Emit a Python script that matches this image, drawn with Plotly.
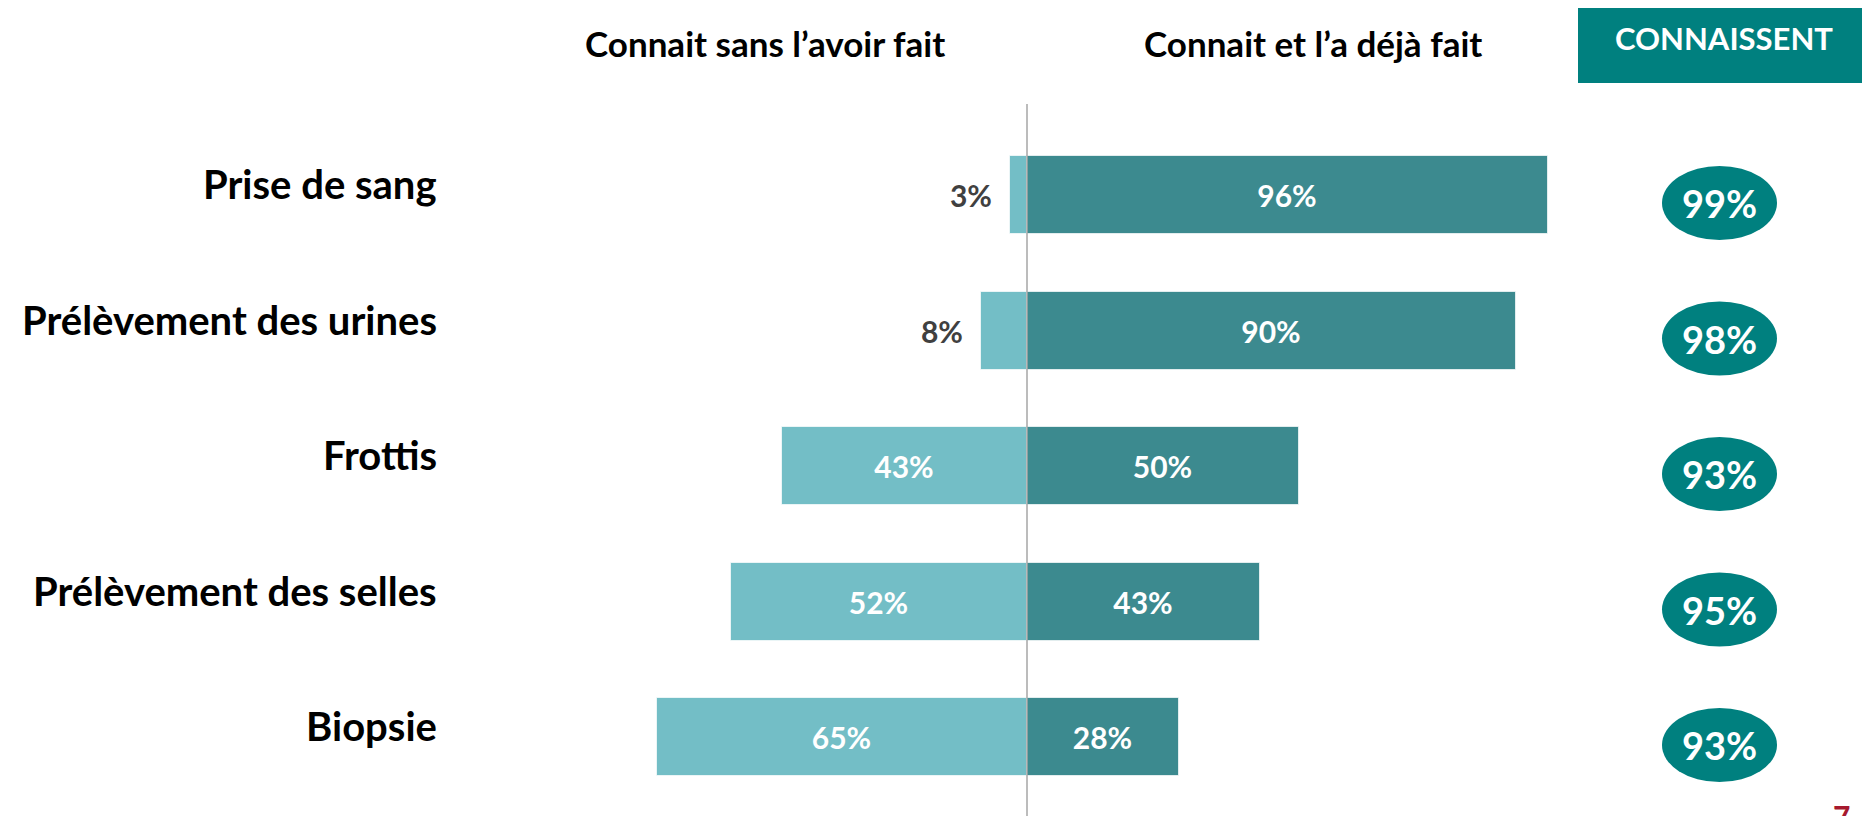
import plotly.graph_objects as go

# ---------------- data ----------------
categories = ["Prise de sang", "Prélèvement des urines", "Frottis",
              "Prélèvement des selles", "Biopsie"]
connait_sans_faire = [3, 8, 43, 52, 65]      # Connait sans l'avoir fait
connait_deja_fait = [96, 90, 50, 43, 28]     # Connait et l'a déjà fait
connaissent = [99, 98, 93, 95, 93]           # total CONNAISSENT

header_left = "Connait sans l’avoir fait"
header_right = "Connait et l’a déjà fait"
header_total = "CONNAISSENT"
page_number = "7"

# ---------------- style ----------------
W, H = 1862, 816
LIGHT = "#73BEC6"
DARK = "#3C8A8F"
TEAL = "#00807F"
FONT = "Lato"

PX_PER_PCT_LEFT = 5.7
PX_PER_PCT_RIGHT = 5.43
CENTER_PX = 1027
ROW0_PX = 195
ROW_STEP = 135.5
BAR_W = 78 / ROW_STEP

def px_x(p):
    return p / W

def px_y(p):
    return 1 - p / H

x_range_left = [-CENTER_PX / PX_PER_PCT_LEFT, 0]
x_range_right = [0, (W - CENTER_PX) / PX_PER_PCT_RIGHT]
y_range = [(H - ROW0_PX) / ROW_STEP, -ROW0_PX / ROW_STEP]

n = len(categories)
left_x = [-v for v in connait_sans_faire]
left_text = [f"{v}%" + ("\u00a0\u00a0" if v < 20 else "") for v in connait_sans_faire]
left_pos = ["outside" if v < 20 else "inside" for v in connait_sans_faire]
left_col = ["#404040" if v < 20 else "white" for v in connait_sans_faire]

fig = go.Figure()
fig.add_trace(go.Bar(
    y=categories, x=left_x, orientation="h", base=0, xaxis="x", yaxis="y",
    marker=dict(color=LIGHT, line=dict(color="rgba(255,255,255,0.7)", width=1)),
    text=left_text, textposition=left_pos, insidetextanchor="middle",
    textfont=dict(family=FONT, size=30, color=left_col, weight="bold"),
    outsidetextfont=dict(family=FONT, size=30, color="#404040", weight="bold"),
    width=BAR_W, cliponaxis=False, hoverinfo="skip", showlegend=False,
))
fig.add_trace(go.Bar(
    y=categories, x=connait_deja_fait, orientation="h", base=0, xaxis="x2", yaxis="y",
    marker=dict(color=DARK, line=dict(color="rgba(255,255,255,0.7)", width=1)),
    text=[f"{v}%" for v in connait_deja_fait], textposition="inside",
    insidetextanchor="middle",
    textfont=dict(family=FONT, size=30, color="white", weight="bold"),
    width=BAR_W, cliponaxis=False, hoverinfo="skip", showlegend=False,
))

shapes = []
annotations = []

# total column: ellipses + text
for i, v in enumerate(connaissent):
    shapes.append(dict(
        type="circle", xref="paper", yref="y",
        ysizemode="pixel", yanchor=i,
        x0=px_x(1662), x1=px_x(1777), y0=-45, y1=29,
        fillcolor=TEAL, line=dict(width=0), layer="below",
    ))
    annotations.append(dict(
        text=f"{v}%", xref="paper", yref="y", x=px_x(1719.5), y=i, yshift=-8,
        xanchor="center", yanchor="middle", showarrow=False,
        font=dict(family=FONT, size=38, color="white", weight="bold"),
    ))

# centre line
shapes.append(dict(type="line", xref="paper", yref="paper",
                   x0=px_x(CENTER_PX), x1=px_x(CENTER_PX),
                   y0=px_y(104), y1=0, line=dict(color="#A6A6A6", width=1.5),
                   layer="above"))
# header box
shapes.append(dict(type="rect", xref="paper", yref="paper",
                   x0=px_x(1578), x1=1.01, y0=px_y(83), y1=px_y(8),
                   fillcolor=TEAL, line=dict(width=0), layer="below"))

for i, c in enumerate(categories):
    annotations.append(dict(
        text=c, xref="paper", yref="y", x=px_x(439), y=i, yshift=11,
        xanchor="right", yanchor="middle", showarrow=False,
        font=dict(family=FONT, size=40, color="black", weight="bold"),
    ))
annotations += [
    dict(text=header_left, xref="paper", yref="paper", x=px_x(765), y=px_y(43),
         xanchor="center", yanchor="middle", showarrow=False,
         font=dict(family=FONT, size=35, color="black", weight="bold")),
    dict(text=header_right, xref="paper", yref="paper", x=px_x(1313), y=px_y(43),
         xanchor="center", yanchor="middle", showarrow=False,
         font=dict(family=FONT, size=35, color="black", weight="bold")),
    dict(text=header_total, xref="paper", yref="paper", x=px_x(1723.5), y=px_y(38),
         xanchor="center", yanchor="middle", showarrow=False,
         font=dict(family=FONT, size=31, color="white", weight="bold")),
    dict(text=page_number, xref="paper", yref="paper", x=px_x(1841), y=px_y(796),
         xanchor="center", yanchor="top", showarrow=False,
         font=dict(family=FONT, size=30, color="#A6192E", weight="bold")),
]

fig.update_layout(
    width=W, height=H,
    margin=dict(l=0, r=0, t=0, b=0),
    paper_bgcolor="white", plot_bgcolor="white",
    barmode="overlay", bargap=0,
    xaxis=dict(domain=[0, CENTER_PX / W], range=x_range_left, visible=False,
               fixedrange=True, anchor="y"),
    xaxis2=dict(domain=[CENTER_PX / W, 1], range=x_range_right, visible=False,
                fixedrange=True, anchor="y"),
    yaxis=dict(range=y_range, visible=False, fixedrange=True,
               categoryorder="array", categoryarray=categories),
    shapes=shapes, annotations=annotations,
    uniformtext=dict(mode="show", minsize=10),
)

fig.write_html(
    "out.html",
    config={"displayModeBar": False},
    post_script="document.body.style.margin='0';document.body.style.overflow='hidden';",
)
